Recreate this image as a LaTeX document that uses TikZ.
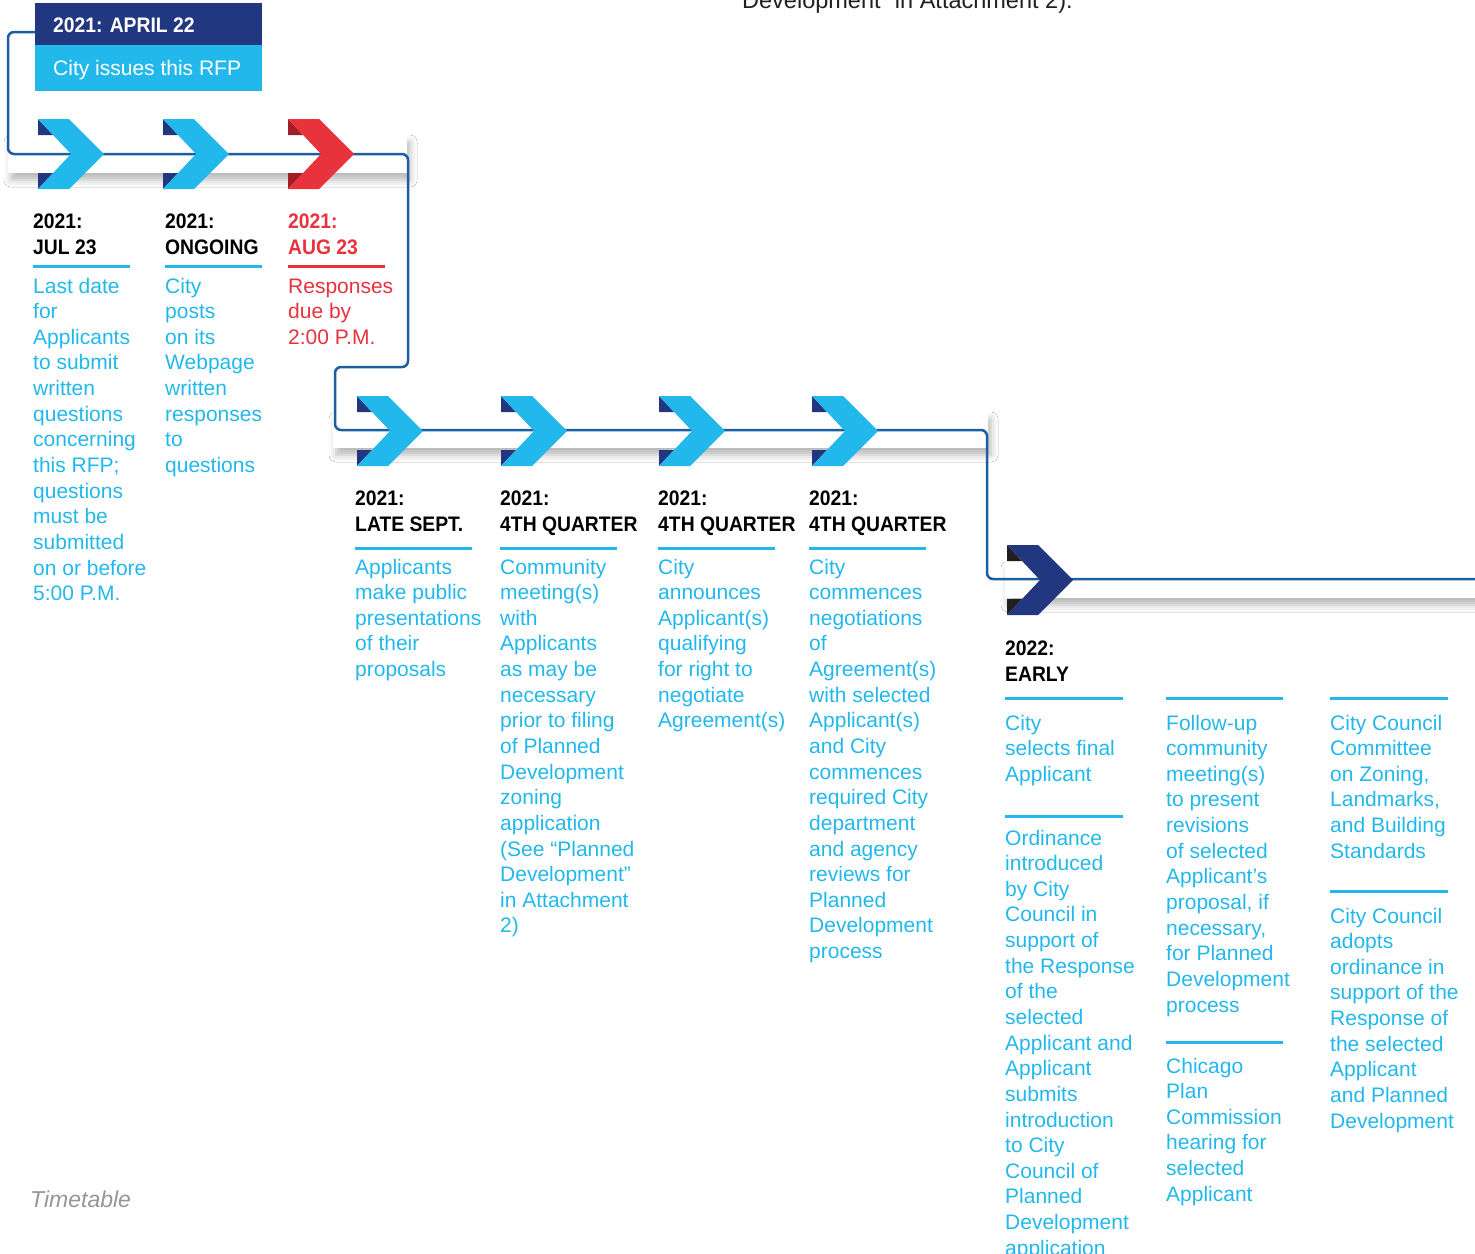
\documentclass[tikz,border=0pt]{standalone}
\usepackage{fontspec}
\setmainfont{Liberation Sans}
\newfontfamily\hdfont[FakeStretch=0.92]{Liberation Sans}
\usetikzlibrary{shadows.blur}
\definecolor{cy}{RGB}{35,184,236}
\definecolor{nv}{RGB}{33,56,128}
\definecolor{rd}{RGB}{232,50,60}
\definecolor{drd}{RGB}{163,29,36}
\definecolor{lnc}{RGB}{28,94,160}
\definecolor{blk}{RGB}{35,31,32}
\definecolor{grt}{RGB}{150,150,150}
\newcommand\chev[4]{% x0, centre y, fill, dark
  \fill[#4] (#1,{#2-35}) -- (#1,{#2-19}) -- ({#1+15},{#2-19}) -- cycle;
  \fill[#4] (#1,{#2+35}) -- (#1,{#2+19}) -- ({#1+15},{#2+19}) -- cycle;
  \fill[#3] (#1,{#2-35}) -- ({#1+31},{#2-35}) -- ({#1+66},#2) -- ({#1+31},{#2+35}) -- (#1,{#2+35}) -- ({#1+33},#2) -- cycle;
}
\newcommand\band[4]{\fill[white, blur shadow={shadow xshift=3pt, shadow yshift=-7pt, shadow blur radius=7pt, shadow opacity=28}] (#1,#2) rectangle (#3,#4);}
\newcommand\stk[1]{\begin{tabular}[t]{@{}l@{}}#1\end{tabular}}
\tikzset{
  hd/.style={anchor=base west, inner sep=0pt, text=black,
    font={\hdfont\bfseries\fontsize{21}{26}\selectfont}},
  bd/.style={anchor=base west, inner sep=0pt, text=cy,
    font={\fontsize{21}{25.64}\selectfont}},
  rulec/.style={draw=cy, line width=3pt},
  conn/.style={draw=lnc, line width=2.5pt, rounded corners=6pt},
}
\begin{document}
\begin{tikzpicture}[x=1pt,y=-1pt]
\fill[white] (0,0) rectangle (1475,1253);
\useasboundingbox (0,0) rectangle (1475,1253);
% top cut text
\node[anchor=base west, inner sep=0pt, text=blk, font={\fontsize{23.5}{28}\selectfont}] (toptxt) at (742,8) {Development” in Attachment 2).};
% header box
\node[fill=nv, minimum width=227pt, minimum height=42pt, anchor=north west, inner sep=0pt] (hdrT) at (35,3) {};
\node[fill=cy, minimum width=227pt, minimum height=46pt, anchor=north west, inner sep=0pt] (hdrB) at (35,45) {};
\node[anchor=base west, inner sep=0pt, text=white, font={\hdfont\bfseries\fontsize{21}{26}\selectfont}] (hdrD) at (53,32) {2021: APRIL 22};
\node[anchor=base west, inner sep=0pt, text=white, font={\fontsize{21}{26}\selectfont}] (hdrS) at (53,75) {City issues this RFP};
% bands
\band{8}{135}{407}{173}
\band{333}{412}{988}{448}
\band{1005}{561}{1480}{598}
% connector
\coordinate (start) at (35,32);
\coordinate (endp) at (1480,579);
\draw[conn] (start) -- (8,32) -- (8,154) -- (408,154) -- (408,367) -- (335,367) -- (335,430) -- (987,430) -- (987,579) -- (endp);
% chevrons
\chev{38}{154}{cy}{nv}
\chev{163}{154}{cy}{nv}
\chev{288}{154}{rd}{drd}
\chev{357}{431}{cy}{nv}
\chev{501}{431}{cy}{nv}
\chev{659}{431}{cy}{nv}
\chev{812}{431}{cy}{nv}
\chev{1007}{580}{nv}{blk}
% row 1
\node[hd] (h11) at (33,228) {\stk{2021:\\JUL 23}};
\draw[rulec] (33,266) -- (130,266);
\node[bd] (b11) at (33,293) {\stk{Last date\\for\\Applicants\\to submit\\written\\questions\\concerning\\this RFP;\\questions\\must be\\submitted\\on or before\\5:00 P.M.}};
\node[hd] (h12) at (165,228) {\stk{2021:\\ONGOING}};
\draw[rulec] (165,266) -- (262,266);
\node[bd] (b12) at (165,293) {\stk{City\\posts\\on its\\Webpage\\written\\responses\\to\\questions}};
\node[hd, text=rd] (h13) at (288,228) {\stk{2021:\\AUG 23}};
\draw[rulec, draw=rd] (288,266) -- (385,266);
\node[bd, text=rd] (b13) at (288,293) {\stk{Responses\\due by\\2:00 P.M.}};
% row 2
\node[hd] (h21) at (355,505) {\stk{2021:\\LATE SEPT.}};
\draw[rulec] (355,548) -- (472,548);
\node[bd] (b21) at (355,574) {\stk{Applicants\\make public\\presentations\\of their\\proposals}};
\node[hd] (h22) at (500,505) {\stk{2021:\\4TH QUARTER}};
\draw[rulec] (500,548) -- (617,548);
\node[bd] (b22) at (500,574) {\stk{Community\\meeting(s)\\with\\Applicants\\as may be\\necessary\\prior to filing\\of Planned\\Development\\zoning\\application\\(See “Planned\\Development”\\in Attachment\\2)}};
\node[hd] (h23) at (658,505) {\stk{2021:\\4TH QUARTER}};
\draw[rulec] (658,548) -- (775,548);
\node[bd] (b23) at (658,574) {\stk{City\\announces\\Applicant(s)\\qualifying\\for right to\\negotiate\\Agreement(s)}};
\node[hd] (h24) at (809,505) {\stk{2021:\\4TH QUARTER}};
\draw[rulec] (809,548) -- (926,548);
\node[bd] (b24) at (809,574) {\stk{City\\commences\\negotiations\\of\\Agreement(s)\\with selected\\Applicant(s)\\and City\\commences\\required City\\department\\and agency\\reviews for\\Planned\\Development\\process}};
% row 3
\node[hd] (h31) at (1005,655) {\stk{2022:\\EARLY}};
\draw[rulec] (1005,698) -- (1123,698);
\node[bd] (b31) at (1005,730) {\stk{City\\selects final\\Applicant}};
\draw[rulec] (1005,816) -- (1123,816);
\node[bd] (b32) at (1005,845) {\stk{Ordinance\\introduced\\by City\\Council in\\support of\\the Response\\of the\\selected\\Applicant and\\Applicant\\submits\\introduction\\to City\\Council of\\Planned\\Development\\application}};
\draw[rulec] (1166,698) -- (1283,698);
\node[bd] (b33) at (1166,730) {\stk{Follow-up\\community\\meeting(s)\\to present\\revisions\\of selected\\Applicant’s\\proposal, if\\necessary,\\for Planned\\Development\\process}};
\draw[rulec] (1166,1042) -- (1283,1042);
\node[bd] (b34) at (1166,1073) {\stk{Chicago\\Plan\\Commission\\hearing for\\selected\\Applicant}};
\draw[rulec] (1330,698) -- (1448,698);
\node[bd] (b35) at (1330,730) {\stk{City Council\\Committee\\on Zoning,\\Landmarks,\\and Building\\Standards}};
\draw[rulec] (1330,891) -- (1448,891);
\node[bd] (b36) at (1330,923) {\stk{City Council\\adopts\\ordinance in\\support of the\\Response of\\the selected\\Applicant\\and Planned\\Development}};
% caption
\node[anchor=base west, inner sep=0pt, text=grt, font={\itshape\fontsize{23}{28}\selectfont}] (cap) at (30,1207) {Timetable};
\end{tikzpicture}
\end{document}
